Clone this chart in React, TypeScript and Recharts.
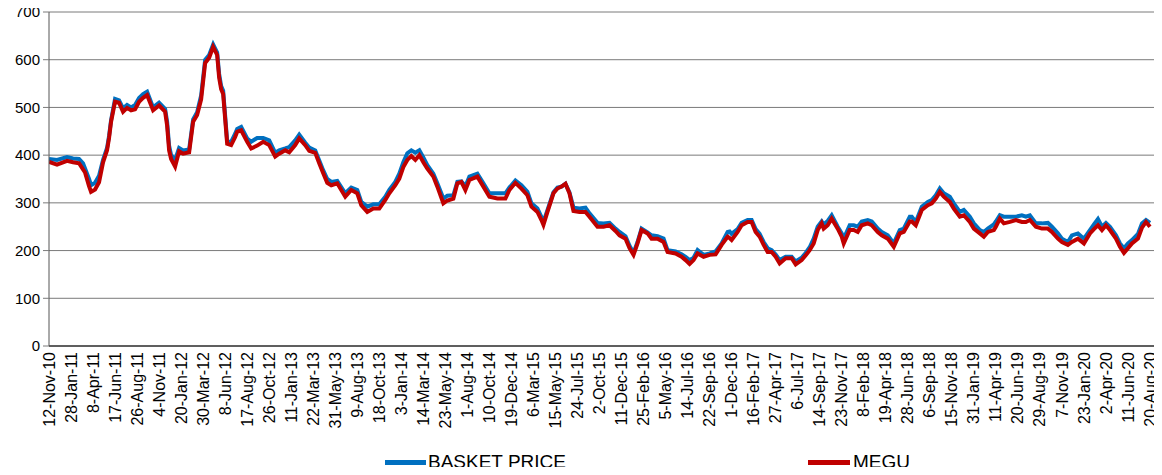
import React from 'react';
import { LineChart, Line, XAxis, YAxis, CartesianGrid, Legend } from 'recharts';

const tickLabels = [
  '12-Nov-10', '28-Jan-11', '8-Apr-11', '17-Jun-11', '26-Aug-11', '4-Nov-11', '20-Jan-12', '30-Mar-12',
  '8-Jun-12', '17-Aug-12', '26-Oct-12', '11-Jan-13', '22-Mar-13', '31-May-13', '9-Aug-13', '18-Oct-13',
  '3-Jan-14', '14-Mar-14', '23-May-14', '1-Aug-14', '10-Oct-14', '19-Dec-14', '6-Mar-15', '15-May-15',
  '24-Jul-15', '2-Oct-15', '11-Dec-15', '25-Feb-16', '5-May-16', '14-Jul-16', '22-Sep-16', '1-Dec-16',
  '16-Feb-17', '27-Apr-17', '6-Jul-17', '14-Sep-17', '23-Nov-17', '8-Feb-18', '19-Apr-18', '28-Jun-18',
  '6-Sep-18', '15-Nov-18', '31-Jan-19', '11-Apr-19', '20-Jun-19', '29-Aug-19', '7-Nov-19', '23-Jan-20',
  '2-Apr-20', '11-Jun-20', '20-Aug-20',
];
const weeksPerTick = 11;
const lastWeek = 555;

const weekIdx = [
  0, 4, 9, 12, 15, 17, 18, 20, 21, 23, 25, 27, 29, 30, 31, 33, 35, 37, 39, 41, 43, 45, 47, 49, 52, 55, 58, 59, 60, 61,
  63, 65, 67, 70, 72, 74, 76, 78, 80, 82, 84, 85, 86, 87, 89, 91, 93, 94, 96, 99, 101, 104, 107, 110, 113, 115, 118, 120, 123, 125,
  128, 130, 133, 135, 137, 139, 141, 144, 148, 151, 154, 156, 159, 162, 165, 168, 170, 173, 175, 177, 179, 181, 183, 185, 187, 189, 192, 194, 197, 199,
  202, 204, 206, 208, 210, 214, 217, 220, 224, 228, 230, 233, 236, 239, 241, 244, 246, 247, 249, 252, 254, 256, 258, 260, 262, 265, 268, 270, 274, 277,
  280, 283, 285, 288, 290, 292, 294, 296, 299, 301, 304, 307, 309, 313, 316, 318, 320, 322, 324, 327, 330, 333, 336, 339, 340, 341, 344, 346, 349, 351,
  353, 355, 357, 359, 361, 363, 365, 368, 371, 373, 376, 378, 380, 382, 384, 386, 387, 389, 391, 394, 396, 397, 400, 402, 404, 406, 409, 411, 414, 416,
  419, 422, 425, 427, 430, 431, 433, 436, 439, 441, 443, 445, 447, 450, 452, 455, 457, 460, 462, 465, 467, 469, 472, 473, 475, 477, 480, 483, 486, 488,
  490, 493, 496, 499, 501, 504, 506, 509, 511, 514, 517, 520, 522, 524, 526, 528, 530, 533, 535, 537, 539, 541, 544, 546, 548, 550,
];

const basketPrice = [
  392, 390, 396, 393, 392, 383, 372, 350, 337, 342, 357, 390, 415, 440, 473, 518, 515, 498, 505, 500, 505, 520, 528, 533, 500, 510, 497, 470, 420, 400,
  390, 415, 410, 412, 475, 490, 525, 600, 610, 632, 615, 570, 545, 535, 430, 428, 445, 455, 459, 435, 428, 436, 436, 431, 405, 410, 414, 417, 431, 443,
  426, 416, 410, 389, 368, 350, 344, 346, 320, 332, 327, 302, 292, 297, 297, 313, 327, 344, 361, 385, 404, 410, 405, 410, 395, 379, 361, 341, 309, 315,
  316, 344, 345, 335, 355, 361, 341, 320, 320, 320, 332, 347, 337, 323, 299, 288, 270, 260, 285, 322, 332, 334, 340, 322, 290, 288, 290, 278, 258, 257,
  258, 246, 239, 230, 210, 195, 218, 246, 238, 232, 230, 225, 201, 198, 192, 187, 180, 185, 201, 191, 194, 198, 215, 239, 240, 235, 245, 258, 264, 264,
  245, 235, 218, 205, 201, 192, 180, 187, 187, 177, 185, 195, 207, 225, 250, 261, 255, 262, 274, 250, 236, 225, 253, 253, 250, 261, 264, 261, 246, 239,
  232, 215, 243, 246, 271, 271, 260, 292, 302, 306, 316, 330, 320, 313, 299, 281, 285, 271, 257, 243, 239, 246, 255, 261, 274, 271, 271, 271, 274, 271,
  274, 257, 257, 258, 250, 236, 225, 218, 232, 236, 225, 243, 255, 266, 250, 258, 250, 232, 215, 205, 215, 222, 235, 257, 264, 258,
];

const meguPrice = [
  386, 380, 388, 385, 383, 370, 364, 335, 323, 328, 343, 385, 410, 436, 470, 512, 510, 491, 499, 494, 496, 512, 520, 526, 494, 504, 491, 462, 410, 392,
  376, 408, 403, 406, 470, 484, 517, 593, 604, 627, 610, 562, 538, 528, 424, 421, 438, 449, 452, 428, 414, 420, 428, 421, 397, 403, 410, 406, 421, 435,
  421, 409, 405, 383, 362, 342, 337, 341, 313, 327, 320, 295, 281, 288, 288, 306, 320, 337, 351, 375, 390, 398, 390, 400, 385, 372, 355, 334, 299, 305,
  309, 341, 344, 327, 348, 355, 334, 313, 309, 309, 327, 342, 330, 316, 292, 281, 264, 254, 281, 320, 330, 334, 340, 320, 283, 281, 281, 271, 250, 250,
  253, 241, 232, 225, 205, 191, 215, 243, 236, 225, 225, 218, 197, 194, 187, 180, 172, 180, 194, 187, 191, 192, 212, 229, 226, 222, 239, 253, 260, 260,
  239, 229, 212, 197, 197, 187, 173, 184, 184, 171, 180, 190, 201, 215, 243, 257, 246, 253, 267, 246, 229, 215, 243, 243, 239, 253, 257, 253, 239, 232,
  225, 208, 236, 239, 261, 261, 253, 285, 295, 299, 309, 323, 313, 302, 288, 271, 274, 260, 246, 236, 229, 239, 243, 250, 267, 257, 260, 264, 260, 260,
  264, 250, 246, 246, 239, 225, 218, 212, 218, 225, 215, 236, 245, 253, 243, 253, 243, 225, 208, 195, 205, 215, 225, 248, 260, 250,
];

const yTicks = [0, 100, 200, 300, 400, 500, 600, 700];

const seriesNames = { basket: 'BASKET PRICE', megu: 'MEGU' };
const colors = { basket: '#0070C0', megu: '#C00000' };

const data = weekIdx.map((w, k) => ({ week: w, basket: basketPrice[k], megu: meguPrice[k] }));
const xTicks = tickLabels.map((_, k) => k * weeksPerTick);

const FONT = '"Liberation Sans", Arial, sans-serif';

const XTick = (props: any) => {
  const { x, y, payload } = props;
  const label = tickLabels[Math.round(payload.value / weeksPerTick)] ?? '';
  return (
    <text
      x={x}
      y={y}
      transform={`rotate(-90 ${x} ${y})`}
      textAnchor="end"
      dy="0.35em"
      fontFamily={FONT}
      fontSize={16}
      fill="#000"
    >
      {label}
    </text>
  );
};

const LegendContent = () => (
  <div style={{ position: 'relative', width: 1162, height: 24, fontFamily: FONT, fontSize: 19, color: '#000' }}>
    <div style={{ position: 'absolute', left: 385, top: 9, width: 41, height: 5, background: colors.basket }} />
    <div style={{ position: 'absolute', left: 428, top: 0, lineHeight: '22px' }}>{seriesNames.basket}</div>
    <div style={{ position: 'absolute', left: 808, top: 9, width: 42, height: 5, background: colors.megu }} />
    <div style={{ position: 'absolute', left: 853, top: 0, lineHeight: '22px' }}>{seriesNames.megu}</div>
  </div>
);

export default function App() {
  return (
    <div style={{ width: 1162, height: 475, margin: -8 }}>
      <LineChart width={1162} height={475} data={data} margin={{ top: 12, right: 2, left: 0, bottom: 0 }}>
        <CartesianGrid horizontal vertical={false} stroke="#7a7a7a" strokeWidth={1} />
        <XAxis
          dataKey="week"
          type="number"
          domain={[0, lastWeek]}
          ticks={xTicks}
          interval={0}
          tick={<XTick />}
          tickLine={false}
          tickSize={6}
          tickMargin={0}
          axisLine={{ stroke: '#000', strokeWidth: 1 }}
          height={105}
          allowDataOverflow
        />
        <YAxis
          type="number"
          domain={[0, 700]}
          ticks={yTicks}
          interval={0}
          width={49}
          tickSize={6}
          tickMargin={3}
          tickLine={{ stroke: '#7a7a7a' }}
          axisLine={{ stroke: '#555', strokeWidth: 1 }}
          tick={{ fontFamily: FONT, fontSize: 15, fill: '#000' }}
        />
        <Legend
          content={<LegendContent />}
          wrapperStyle={{ position: 'absolute', left: 0, top: 451, width: 1162, height: 24 }}
        />
        <Line
          type="linear"
          dataKey="basket"
          name={seriesNames.basket}
          stroke={colors.basket}
          strokeWidth={4}
          dot={false}
          activeDot={false}
          isAnimationActive={false}
        />
        <Line
          type="linear"
          dataKey="megu"
          name={seriesNames.megu}
          stroke={colors.megu}
          strokeWidth={4}
          dot={false}
          activeDot={false}
          isAnimationActive={false}
        />
      </LineChart>
    </div>
  );
}
